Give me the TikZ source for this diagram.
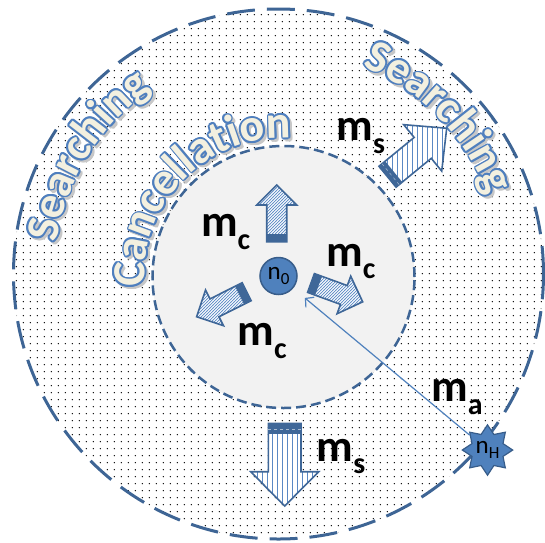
\documentclass[tikz,border=0pt]{standalone}
\usepackage{fontspec}
\setmainfont{Carlito}
\usetikzlibrary{shapes.geometric,arrows.meta,decorations.text,patterns}

\definecolor{ringdash}{HTML}{3E6595}
\definecolor{hubblue}{HTML}{4F81BD}
\definecolor{hubedge}{HTML}{385D8A}
\definecolor{arrowdark}{HTML}{3F6798}
\definecolor{hatchblue}{HTML}{5A88C4}
\definecolor{ringfill}{HTML}{F3F0E0}
\definecolor{ringedge}{HTML}{4F7FBE}
\definecolor{corefill}{HTML}{F2F2F2}

\pgfdeclarepatternformonly{fine dots}{\pgfpointorigin}{\pgfpoint{6.8pt}{6.8pt}}{\pgfpoint{6.8pt}{6.8pt}}{%
  \pgfpathcircle{\pgfpoint{3.4pt}{3.4pt}}{0.75pt}\pgfusepath{fill}}
\pgfdeclarepatternformonly{wide vlines}{\pgfpoint{0pt}{-1pt}}{\pgfpoint{5pt}{6pt}}{\pgfpoint{5pt}{5pt}}{%
  \pgfsetlinewidth{0.8pt}\pgfpathmoveto{\pgfpoint{2.5pt}{-1pt}}\pgfpathlineto{\pgfpoint{2.5pt}{6pt}}\pgfusepath{stroke}}
\pgfdeclarepatternformonly{fine nelines}{\pgfpoint{-1pt}{-1pt}}{\pgfpoint{4pt}{4pt}}{\pgfpoint{3pt}{3pt}}{%
  \pgfsetlinewidth{0.7pt}\pgfpathmoveto{\pgfpoint{-0.2pt}{-0.2pt}}\pgfpathlineto{\pgfpoint{3.2pt}{3.2pt}}\pgfusepath{stroke}}

\newcommand\ringfont{\fontsize{46}{46}\selectfont\bfseries}
\newcommand\msub[2]{#1\raisebox{-12.5pt}{\fontsize{30}{30}\selectfont #2}}
\newcommand\nsub[1]{n\raisebox{-4.5pt}{\fontsize{17}{17}\selectfont #1}}
\newcommand\ringtext[5]{%
  \begin{scope}[shift={(#1)}]
    \foreach \ang in {0,45,...,315}
      \path[decorate, decoration={text along path, text align=left,
          text={|\ringfont\color{black!22}|#5}}, shift={(\ang:1.6)}, xshift=2.4, yshift=-2.4] (#3:#2) arc[start angle=#3, end angle=#4, radius=#2];
    \foreach \ang in {0,30,...,330}
      \path[decorate, decoration={text along path, text align=left,
          text={|\ringfont\color{ringedge}|#5}}, shift={(\ang:1.7)}] (#3:#2) arc[start angle=#3, end angle=#4, radius=#2];
    \path[decorate, decoration={text along path, text align=left,
        text={|\ringfont\color{ringfill}|#5}}] (#3:#2) arc[start angle=#3, end angle=#4, radius=#2];
  \end{scope}}

\tikzset{
  pics/blockarrow/.style n args={7}{code={
    \draw[arrowdark, line width=1.6pt, line join=miter, preaction={fill=white}, pattern=#6, pattern color=hatchblue]
      (0,-#3) -- (#1-#2,-#3) -- (#1-#2,-#4) -- (#1,0) -- (#1-#2,#4) -- (#1-#2,#3) -- (0,#3) -- cycle;
    \fill[arrowdark] (0,-#3) rectangle (#5,#3);
    \draw[#7, dashed, line width=0.5pt] (#5/2,-#3) -- (#5/2,#3);
  }},
  mlab/.style={anchor=base west, inner sep=0pt, font=\fontsize{45}{45}\selectfont\bfseries},
  hub/.style={circle, fill=hubblue, draw=hubedge, line width=1.5pt, minimum size=37pt, inner sep=0pt,
    font=\fontsize{25}{25}\selectfont},
  hubstar/.style={star, star points=8, star point ratio=1.5, minimum size=50pt, inner sep=0pt,
    fill=hubblue, draw=hubedge, line width=1.2pt, font=\fontsize{25}{25}\selectfont},
  link/.style={hubblue, line width=1.2pt, -{Straight Barb[length=6pt,width=13pt]}, shorten >=15pt}
}

\begin{document}
\begin{tikzpicture}[x=1pt, y=1pt]
  \useasboundingbox (-278.5,-268) rectangle (266.5,274);

  \path[preaction={fill=white}, pattern=fine dots, pattern color=black] (0,0) circle[radius=265];
  \fill[corefill] (5,-3) circle[radius=131];
  \draw[ringdash, line width=3pt, dash pattern=on 28pt off 12pt] (0,0) circle[radius=265];
  \draw[ringdash, line width=2.5pt, dash pattern=on 10pt off 5pt] (5,-3) circle[radius=131];

  \ringtext{0,0}{224}{172}{100}{Searching}
  \ringtext{0,0}{224}{68}{5}{Searching}
  \ringtext{5,-3}{139}{184}{70}{Cancellation}

  \pic[rotate=90] at (-1.8,32.3) {blockarrow={56.7}{20}{10}{20}{8}{fine nelines}{arrowdark}};
  \pic[rotate=-20] at (32.5,-9) {blockarrow={55}{20}{10}{20}{8}{fine nelines}{arrowdark}};
  \pic[rotate=206.6] at (-31.8,-17.7) {blockarrow={56}{20}{10}{20}{8}{fine nelines}{arrowdark}};
  \pic[rotate=39.3] at (109,97.3) {blockarrow={76.5}{31}{13.5}{30}{8}{wide vlines}{white!55!arrowdark}};
  \pic[rotate=-90] at (6.2,-149.3) {blockarrow={82.7}{34.3}{16.3}{34}{11}{wide vlines}{white!55!arrowdark}};

  \node[mlab] (mcup) at (-77.7,37.3) {\msub{m}{c}};
  \node[mlab] (mcright) at (47.5,8) {\msub{m}{c}};
  \node[mlab] (mclow) at (-41.2,-71.8) {\msub{m}{c}};
  \node[mlab] (msup) at (57.9,133.2) {\msub{m}{s}};
  \node[mlab] (msdown) at (38,-187) {\msub{m}{s}};
  \node[mlab] (ma) at (152.5,-127.5) {\msub{m}{a}};

  \node[hub] (n0) at (0,-2) {\nsub{0}};
  \node[hubstar] (nH) at (209,-176) {\nsub{H}};
  \draw[link] (nH) -- (n0);
\end{tikzpicture}
\end{document}
